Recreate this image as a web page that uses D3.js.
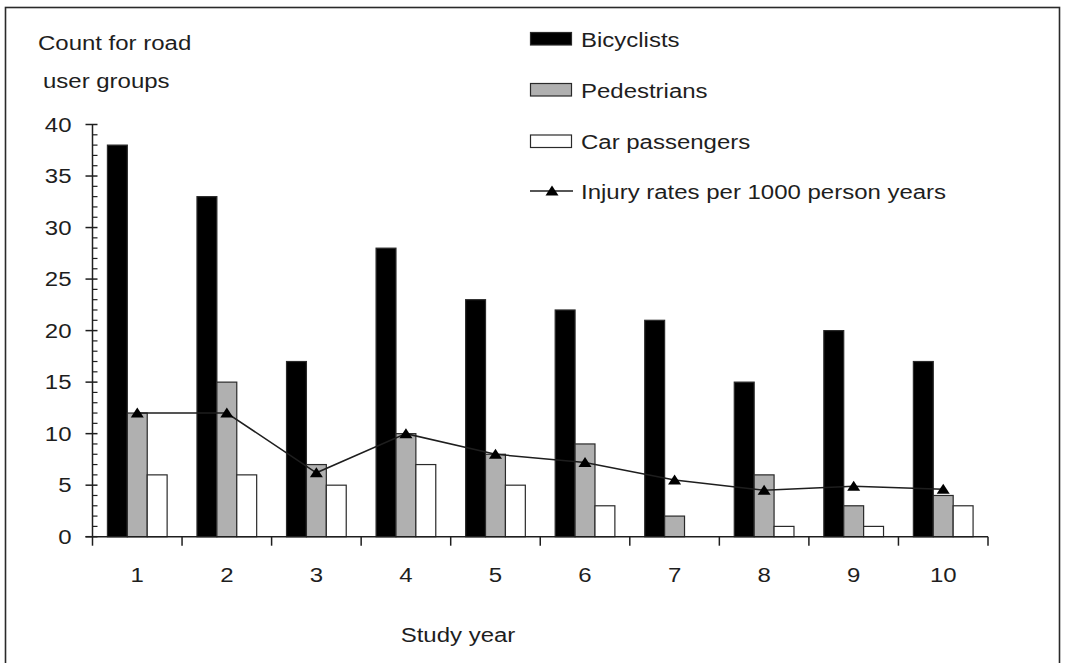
<!DOCTYPE html>
<html>
<head>
<meta charset="utf-8">
<script src="https://cdn.jsdelivr.net/npm/d3@7"></script>
<style>
  html, body { margin: 0; padding: 0; background: #fff; }
  svg { display: block; }
  text { font-family: "Liberation Sans", Arial, sans-serif; fill: #1e1e1e; }
</style>
</head>
<body>
<svg id="chart" width="1066" height="663"></svg>
<script>
// Road user injury counts by study year
const years = ["1", "2", "3", "4", "5", "6", "7", "8", "9", "10"];
const bicyclists = [38, 33, 17, 28, 23, 22, 21, 15, 20, 17];
const pedestrians = [12, 15, 7, 10, 8, 9, 2, 6, 3, 4];
const carPassengers = [6, 6, 5, 7, 5, 3, 0, 1, 1, 3];
const injuryRates = [12.0, 12.0, 6.2, 10.0, 8.0, 7.2, 5.5, 4.5, 4.9, 4.6];
const yTicks = [0, 5, 10, 15, 20, 25, 30, 35, 40];
const seriesNames = ["Bicyclists", "Pedestrians", "Car passengers", "Injury rates per 1000 person years"];

const svg = d3.select("#chart");
const FONT = 19.5;   // font size in px
const SX = 1.23;     // horizontal stretch of lettering

const plot = { left: 92.5, right: 988, top: 124.5, bottom: 536.7 };

const x = d3.scaleBand().domain(years).range([plot.left, plot.right]).paddingInner(0).paddingOuter(0);
const groupPad = x.bandwidth() / 1.5; // gap width 50%
const series = ["bic", "ped", "car"];
const xs = d3.scaleBand().domain(series).range([0, groupPad]).padding(0);
const groupOffset = (x.bandwidth() - groupPad) / 2;

const y = d3.scaleLinear().domain([0, 40]).range([plot.bottom, plot.top]);

const fills = { bic: "#000000", ped: "#b0b0b0", car: "#ffffff" };
const valuesBy = { bic: bicyclists, ped: pedestrians, car: carPassengers };

// helper for stretched text
function label(g, str, tx, ty, anchor) {
  return g.append("text")
    .attr("transform", `translate(${tx},${ty}) scale(${SX},1)`)
    .attr("text-anchor", anchor || "start")
    .style("font-size", FONT + "px")
    .text(str);
}

// outer frame
svg.append("rect")
  .attr("x", 5.5).attr("y", 7.5)
  .attr("width", 1054).attr("height", 700)
  .attr("fill", "none").attr("stroke", "#2a2a2a").attr("stroke-width", 1.6);

// bars
const bars = svg.append("g");
series.forEach(s => {
  bars.selectAll(null)
    .data(years.map((yr, i) => ({ yr, v: valuesBy[s][i] })))
    .join("rect")
    .filter(d => d.v > 0)
    .attr("x", d => x(d.yr) + groupOffset + xs(s))
    .attr("y", d => y(d.v))
    .attr("width", xs.bandwidth())
    .attr("height", d => y(0) - y(d.v))
    .attr("fill", fills[s])
    .attr("stroke", "#2a2a2a")
    .attr("stroke-width", 1.2);
});

// injury rate line
const cx = yr => x(yr) + x.bandwidth() / 2;
const line = d3.line().x(d => cx(d.yr)).y(d => y(d.v));
const rateData = years.map((yr, i) => ({ yr, v: injuryRates[i] }));
svg.append("path")
  .datum(rateData)
  .attr("d", line)
  .attr("fill", "none")
  .attr("stroke", "#1e1e1e")
  .attr("stroke-width", 1.5);

const tri = "M0,-5.5L6.5,4.5L-6.5,4.5Z";
svg.append("g").selectAll("path")
  .data(rateData)
  .join("path")
  .attr("d", tri)
  .attr("transform", d => `translate(${cx(d.yr)},${y(d.v)})`)
  .attr("fill", "#000");

// y axis
const axis = svg.append("g").attr("stroke", "#1e1e1e").attr("stroke-width", 1.5);
axis.append("line")
  .attr("x1", plot.left).attr("x2", plot.left)
  .attr("y1", y(40)).attr("y2", y(0));
d3.range(0, 41, 1).forEach(v => {
  const major = v % 5 === 0;
  axis.append("line")
    .attr("x1", major ? plot.left - 7 : plot.left)
    .attr("x2", plot.left + 5)
    .attr("y1", y(v)).attr("y2", y(v))
    .attr("stroke-width", major ? 1.5 : 1.2);
});
yTicks.forEach(v => {
  label(svg, String(v), 71.5, y(v) + 7, "end");
});

// x axis
axis.append("line")
  .attr("x1", plot.left - 7).attr("x2", plot.right)
  .attr("y1", y(0)).attr("y2", y(0));
const edges = years.map(yr => x(yr)).concat([plot.right]);
edges.forEach(px => {
  axis.append("line")
    .attr("x1", px).attr("x2", px)
    .attr("y1", y(0)).attr("y2", y(0) + 9);
});
years.forEach(yr => {
  label(svg, yr, cx(yr), 582, "middle");
});

// axis titles
label(svg, "Count for road", 38, 50);
label(svg, "user groups", 43, 88);
label(svg, "Study year", 458, 642, "middle");

// legend
const lg = svg.append("g");
const legendBase = [46.5, 97.5, 149, 198.5];
series.forEach((s, i) => {
  lg.append("rect")
    .attr("x", 530.5).attr("y", legendBase[i] - 14)
    .attr("width", 41).attr("height", 12.5)
    .attr("fill", fills[s])
    .attr("stroke", "#2a2a2a").attr("stroke-width", 1.2);
  label(lg, seriesNames[i], 581, legendBase[i]);
});
lg.append("line")
  .attr("x1", 530).attr("x2", 573)
  .attr("y1", legendBase[3] - 7.5).attr("y2", legendBase[3] - 7.5)
  .attr("stroke", "#1e1e1e").attr("stroke-width", 1.5);
lg.append("path")
  .attr("d", tri)
  .attr("transform", `translate(552,${legendBase[3] - 7.5})`)
  .attr("fill", "#000");
label(lg, seriesNames[3], 581, legendBase[3]);
</script>
</body>
</html>
